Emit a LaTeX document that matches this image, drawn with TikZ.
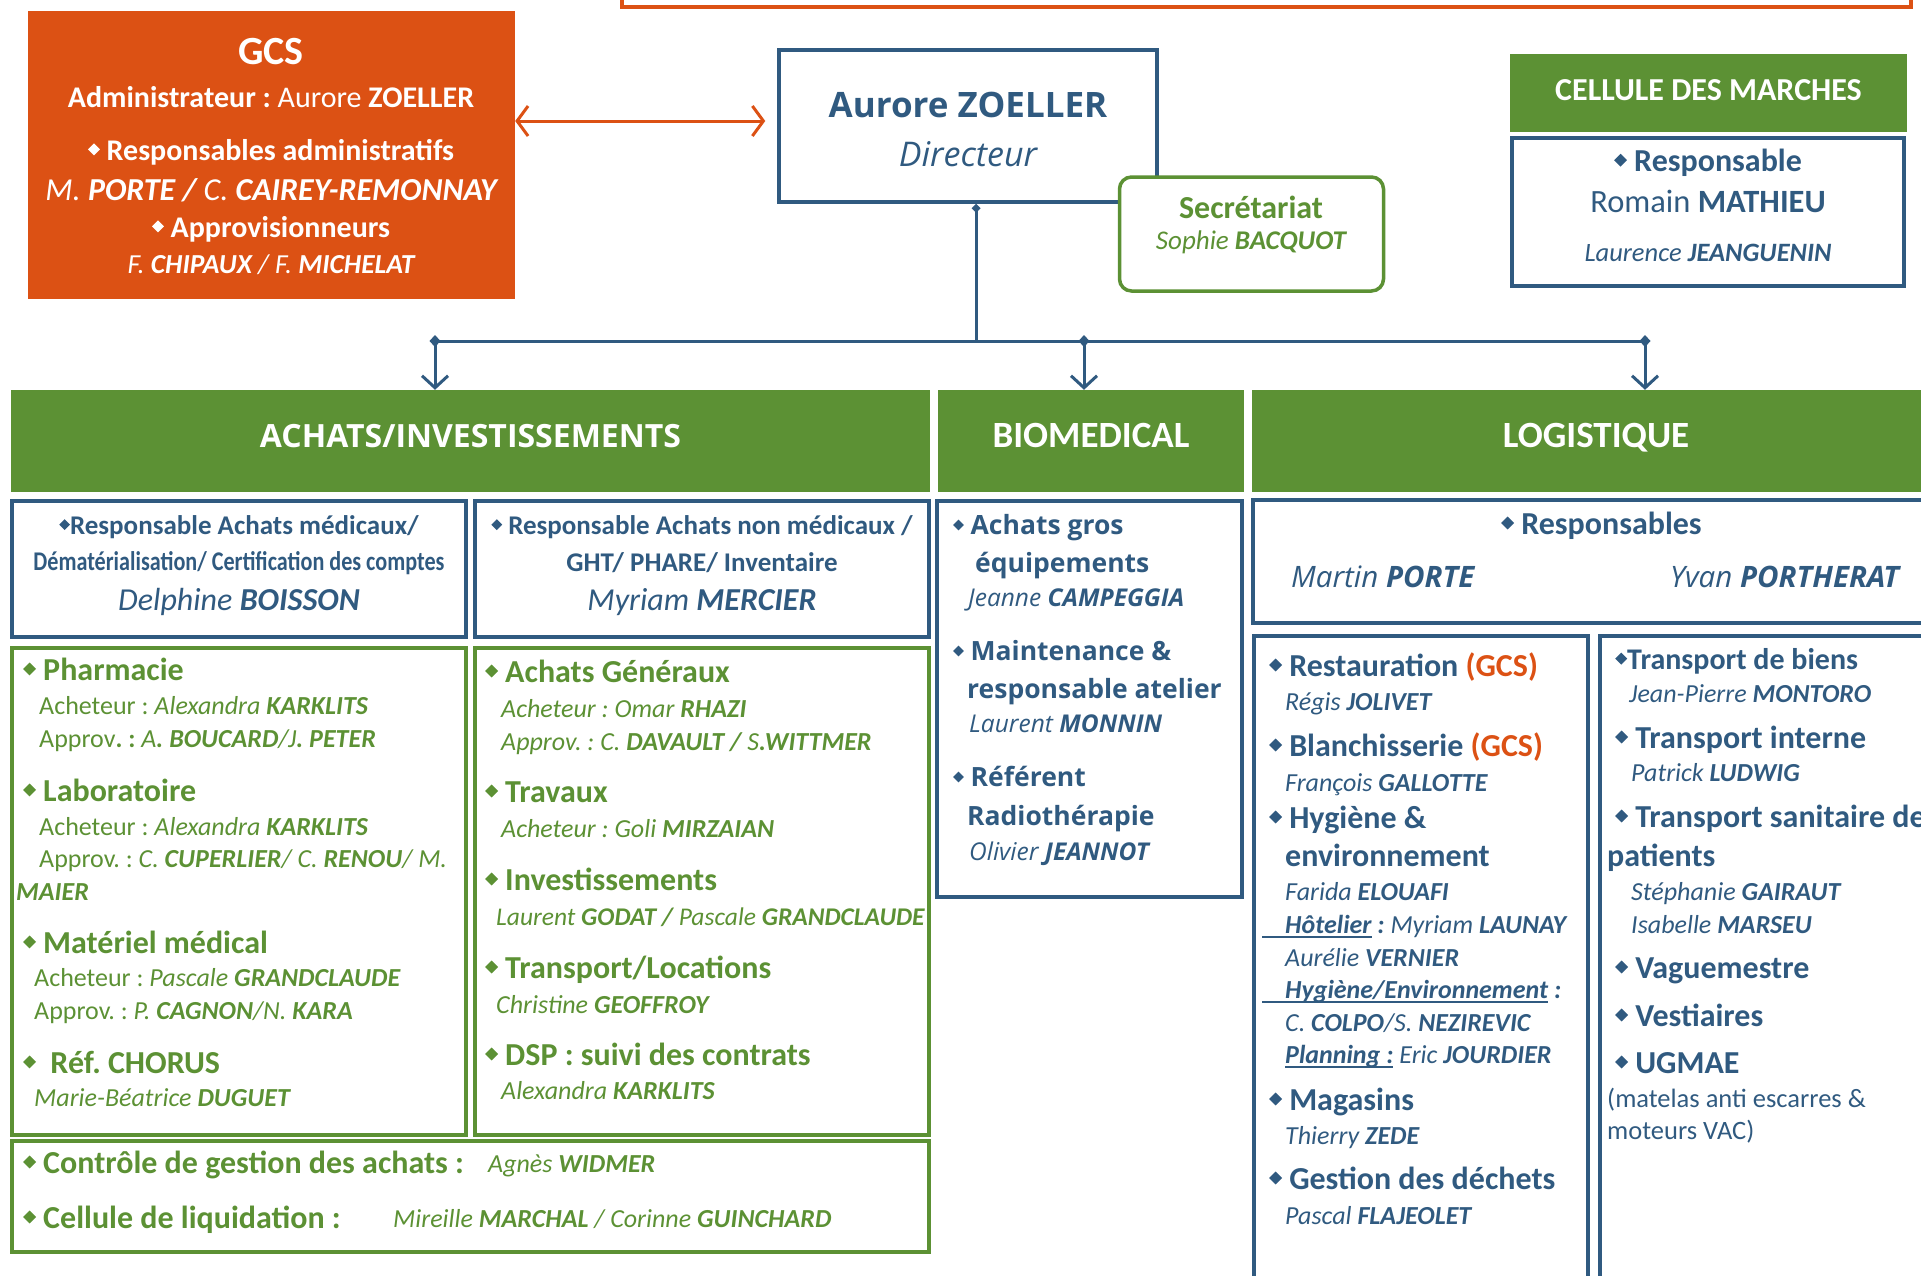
\documentclass[tikz,border=0pt]{standalone}
\usepackage{fontspec}
\setmainfont{Carlito}
\newfontfamily\osans{Open Sans}
\newfontfamily\cond[FakeStretch=0.82]{Carlito}
\usetikzlibrary{positioning, arrows.meta}
\definecolor{orng}{RGB}{220,81,20}
\definecolor{grn}{RGB}{92,145,52}
\definecolor{blu}{RGB}{48,90,128}
\newcommand{\fs}[2]{\fontsize{#1}{#2}\selectfont}
\newcommand{\bul}{\tikz[baseline=0pt]\fill (0pt,.36em)--(.2em,.56em)--(.4em,.36em)--(.2em,.16em)--cycle;}
\newcommand{\ul}[1]{\setbox0\hbox{#1}\rlap{\rule[-4pt]{\wd0}{1.6pt}}\box0}

\begin{document}
\frenchspacing
\begin{tikzpicture}[x=1pt, y=-1pt,
        conn/.style = {blu, line width=3pt},
        head/.style = {fill=grn, text=white, inner sep=0pt, font=\fs{37}{44}\bfseries, text height=23pt, text depth=10pt},
        bbox/.style = {draw=blu, line width=3.5pt},
        gbox/.style = {draw=grn, line width=3.5pt},
          gh/.style = {anchor=west, inner sep=0pt, text=grn, font=\fs{32}{38}\bfseries, text height=23pt, text depth=8pt},
          gs/.style = {anchor=west, inner sep=0pt, text=grn, font=\fs{26}{31}, text height=19pt, text depth=6pt},
          bh/.style = {gh, text=blu},
          bs/.style = {gs, text=blu, font=\fs{26}{31}\itshape},
          oh/.style = {gh, text=blu, font=\osans\fs{26.5}{32}\bfseries},
          os/.style = {gs, text=blu, font=\osans\fs{24.5}{30}\itshape},
         wht/.style = {text=white, inner sep=0pt}
                        ]
\useasboundingbox (0,0) rectangle (1921,1275);
\clip (0,0) rectangle (1921,1275);

\draw[orng, line width=4pt] (622,-30) rectangle (1911,7);

\node (gcs) [fill=orng, minimum width=487pt, minimum height=288pt, inner sep=0pt] at (271.5,155) {};
\node (gcs1) [wht, font=\fs{40}{46}\bfseries] at (271,52) {GCS};
\node (gcs2) [wht, font=\fs{30}{36}] at (271,97) {\textbf{Administrateur :} Aurore \textbf{ZOELLER}};
\node (gcs3) [wht, font=\fs{30}{36}\bfseries] at (271,152) {\bul\ Responsables administratifs};
\node (gcs4) [wht, font=\fs{32}{38}\itshape] at (271,190) {M. \textbf{PORTE / }C. \textbf{CAIREY-REMONNAY}};
\node (gcs5) [wht, font=\fs{30}{36}\bfseries] at (271,229) {\bul\ Approvisionneurs};
\node (gcs6) [wht, font=\fs{27.5}{32}\itshape] at (271,265) {F. \textbf{CHIPAUX} / F. \textbf{MICHELAT}};

\node (dir) [draw=blu, line width=3.5pt, minimum width=378pt, minimum height=152pt] at (968,126) {};
\node (dir1) [text=blu, inner sep=0pt, font=\osans\fs{35}{42}\bfseries] at (968,105) {Aurore ZOELLER};
\node (dir2) [text=blu, inner sep=0pt, font=\osans\fs{34}{40}\itshape] at (968,154) {Directeur};

\draw[orng, line width=3pt, {Straight Barb[length=11pt,width=30pt]}-{Straight Barb[length=11pt,width=30pt]}]
  ([yshift=34pt]gcs.east) -- ([xshift=-12pt,yshift=5pt]dir.west);

\coordinate (dtop) at ([xshift=8pt]dir.south);
\coordinate (hub) at (976,341);
\coordinate (ja) at (435,335);
\coordinate (jb) at (1084,335);
\coordinate (jc) at (1645,335);

\node (sec) [draw=grn, line width=3.5pt, fill=white, rounded corners=12pt, minimum width=264pt, minimum height=114pt] at (1251.5,234) {};
\node (sec1) [text=grn, inner sep=0pt, font=\fs{32}{38}\bfseries] at (1251,207) {Secrétariat};
\node (sec2) [text=grn, inner sep=0pt, font=\fs{27}{32}\itshape] at (1251,242) {Sophie \textbf{BACQUOT}};

\node (cdm) [head, font=\fs{32}{38}\bfseries, text height=21pt, text depth=6pt, minimum width=397pt, minimum height=78pt] at (1708.5,93) {CELLULE DES MARCHES};
\draw[bbox] (1512,138) rectangle (1904,286);
\node (cdm1) [text=blu, inner sep=0pt, font=\fs{32}{38}\bfseries] at (1708,163) {\bul\ Responsable};
\node (cdm2) [text=blu, inner sep=0pt, font=\fs{32.5}{38}] at (1708,201) {Romain \textbf{MATHIEU}};
\node (cdm3) [text=blu, inner sep=0pt, font=\fs{26.5}{32}\itshape] at (1708,253) {Laurence \textbf{JEANGUENIN}};

\node (achats) [head, font=\osans\fs{32}{38}\bfseries, minimum width=919pt, minimum height=102pt] at (470.5,441) {ACHATS/INVESTISSEMENTS};
\node (biomed) [head, minimum width=306pt, minimum height=102pt] at (1091,441) {BIOMEDICAL};
\node (logist) [head, minimum width=688pt, minimum height=102pt] at (1596,441) {LOGISTIQUE};

\draw[conn, {Diamond[length=9pt,width=9pt]}-] (dtop) -- (hub);
\draw[conn] (ja |- hub) -- (jc |- hub);
\draw[conn, {Diamond[length=12pt,width=11pt]}-{Straight Barb[length=12pt,width=26pt]}] (ja) -- (ja |- achats.north);
\draw[conn, {Diamond[length=12pt,width=11pt]}-{Straight Barb[length=12pt,width=26pt]}] (jb) -- (jb |- biomed.north);
\draw[conn, {Diamond[length=12pt,width=11pt]}-{Straight Barb[length=12pt,width=26pt]}] (jc) -- (jc |- logist.north);

\draw[bbox] (12,501) rectangle (466,637);
\draw[bbox] (475,501) rectangle (929,637);
\node (ra1) [text=blu, inner sep=0pt, font=\fs{27}{32}\bfseries] at (239,527) {\bul Responsable Achats médicaux/};
\node (ra2) [text=blu, inner sep=0pt, font=\cond\fs{27}{32}\bfseries] at (239,563) {Dématérialisation/ Certification des comptes};
\node (ra3) [text=blu, inner sep=0pt, font=\fs{32}{38}\itshape] at (239,602) {Delphine \textbf{BOISSON}};
\node (rb1) [text=blu, inner sep=0pt, font=\fs{27}{32}\bfseries] at (702,527) {\bul\ Responsable Achats non médicaux /};
\node (rb2) [text=blu, inner sep=0pt, font=\fs{27}{32}\bfseries] at (702,563) {GHT/ PHARE/ Inventaire};
\node (rb3) [text=blu, inner sep=0pt, font=\fs{32}{38}\itshape] at (702,602) {Myriam \textbf{MERCIER}};

\draw[gbox] (12,648) rectangle (466,1135);
\draw[gbox] (475,648) rectangle (929,1135);
\draw[gbox] (12,1141) rectangle (929,1252);

\node (pha)  [gh] at (23,673) {\bul\ Pharmacie};
\node (pha1) [gs] at (39,708) {Acheteur : \textit{Alexandra \textbf{KARKLITS}}};
\node (pha2) [gs] at (39,741) {Approv\textbf{. :} \textit{A\textbf{. BOUCARD}/J\textbf{. PETER}}};
\node (lab)  [gh] at (23,794) {\bul\ Laboratoire};
\node (lab1) [gs] at (39,829) {Acheteur : \textit{Alexandra \textbf{KARKLITS}}};
\node (lab2) [gs] at (39,861) {Approv. : \textit{C. \textbf{CUPERLIER}/ C. \textbf{RENOU}/ M.}};
\node (lab3) [gs] at (16,894) {\textit{\textbf{MAIER}}};
\node (mat)  [gh] at (23,946) {\bul\ Matériel médical};
\node (mat1) [gs] at (34,980) {Acheteur : \textit{Pascale \textbf{GRANDCLAUDE}}};
\node (mat2) [gs] at (34,1013) {Approv. : \textit{P. \textbf{CAGNON}/N. \textbf{KARA}}};
\node (cho)  [gh] at (23,1066) {\bul\ \ Réf. CHORUS};
\node (cho1) [gs] at (34,1100) {\textit{Marie-Béatrice \textbf{DUGUET}}};

\node (gen)  [gh] at (485,675) {\bul\ Achats Généraux};
\node (gen1) [gs] at (501,711) {\textit{Acheteur : Omar \textbf{RHAZI}}};
\node (gen2) [gs] at (501,744) {\textit{Approv. : C. \textbf{DAVAULT / }S\textbf{.WITTMER}}};
\node (tra)  [gh] at (485,795) {\bul\ Travaux};
\node (tra1) [gs] at (501,831) {\textit{Acheteur : Goli \textbf{MIRZAIAN}}};
\node (inv)  [gh] at (485,883) {\bul\ Investissements};
\node (inv1) [gs, font=\fs{25.5}{31}] at (496,919) {\textit{Laurent \textbf{GODAT / }Pascale \textbf{GRANDCLAUDE}}};
\node (loc)  [gh] at (485,971) {\bul\ Transport/Locations};
\node (loc1) [gs] at (496,1007) {\textit{Christine \textbf{GEOFFROY}}};
\node (dsp)  [gh] at (485,1058) {\bul\ DSP : suivi des contrats};
\node (dsp1) [gs] at (501,1093) {\textit{Alexandra \textbf{KARKLITS}}};

\node (cge)  [gh] at (23,1166) {\bul\ Contrôle de gestion des achats :};
\node (cge1) [gs] at (488,1166) {\textit{Agnès \textbf{WIDMER}}};
\node (liq)  [gh] at (23,1221) {\bul\ Cellule de liquidation :};
\node (liq1) [gs] at (393,1221) {\textit{Mireille \textbf{MARCHAL} / Corinne \textbf{GUINCHARD}}};

\draw[bbox] (937,501) rectangle (1242,897);
\node (gro)  [oh] at (953,527) {\bul\ Achats gros};
\node (gro1) [oh] at (975,565) {équipements};
\node (gro2) [os] at (968,600) {Jeanne \textbf{CAMPEGGIA}};
\node (mai)  [oh] at (953,653) {\bul\ Maintenance \&};
\node (mai1) [oh] at (967,691) {responsable atelier};
\node (mai2) [os] at (969,726) {Laurent \textbf{MONNIN}};
\node (rad)  [oh] at (953,779) {\bul\ Référent};
\node (rad1) [oh] at (967,818) {Radiothérapie};
\node (rad2) [os] at (969,854) {Olivier \textbf{JEANNOT}};

\draw[bbox] (1253,500) rectangle (1940,623);
\node (lre)  [bh] at (1501,527) {\bul\ Responsables};
\node (lre1) [os, font=\osans\fs{29.5}{35}\itshape] at (1291,581) {Martin \textbf{PORTE}};
\node (lre2) [os, font=\osans\fs{29.5}{35}\itshape] at (1670,581) {Yvan \textbf{PORTHERAT}};

\draw[bbox] (1254,636) rectangle (1588,1300);
\draw[bbox] (1600,636) rectangle (1940,1300);
\node (rst)  [bh] at (1269,669) {\bul\ Restauration \textcolor{orng}{(GCS)}};
\node (rst1) [bs] at (1285,704) {Régis \textbf{JOLIVET}};
\node (bla)  [bh] at (1269,749) {\bul\ Blanchisserie \textcolor{orng}{(GCS)}};
\node (bla1) [bs] at (1285,785) {François \textbf{GALLOTTE}};
\node (hyg)  [bh] at (1269,821) {\bul\ Hygiène \&};
\node (hyg1) [bh] at (1285,859) {environnement};
\node (hyg2) [bs] at (1285,894) {Farida \textbf{ELOUAFI}};
\node (hyg3) [bs] at (1262,927) {\ul{\hspace{23pt}\textbf{Hôtelier}}\textbf{ :} Myriam \textbf{LAUNAY}};
\node (hyg4) [bs] at (1285,960) {Aurélie \textbf{VERNIER}};
\node (hyg5) [bs] at (1262,992) {\ul{\hspace{23pt}\textbf{Hygiène/Environnement}}\textbf{ :}};
\node (hyg6) [bs] at (1285,1025) {C. \textbf{COLPO}/S. \textbf{NEZIREVIC}};
\node (hyg7) [bs] at (1285,1057) {\ul{\textbf{Planning :}}\ Eric \textbf{JOURDIER}};
\node (mag)  [bh] at (1269,1103) {\bul\ Magasins};
\node (mag1) [bs] at (1285,1138) {Thierry \textbf{ZEDE}};
\node (dec)  [bh] at (1269,1182) {\bul\ Gestion des déchets};
\node (dec1) [bs] at (1285,1218) {Pascal \textbf{FLAJEOLET}};

\node (tbi)  [bh, font=\fs{30}{36}\bfseries] at (1615,662) {\bul Transport de biens};
\node (tbi1) [bs] at (1629,696) {Jean-Pierre \textbf{MONTORO}};
\node (tin)  [bh] at (1615,741) {\bul\ Transport interne};
\node (tin1) [bs] at (1631,775) {Patrick \textbf{LUDWIG}};
\node (tsp)  [bh] at (1615,820) {\bul\ Transport sanitaire de};
\node (tsp1) [bh] at (1607,859) {patients};
\node (tsp2) [bs] at (1631,894) {Stéphanie \textbf{GAIRAUT}};
\node (tsp3) [bs] at (1631,927) {Isabelle \textbf{MARSEU}};
\node (vag)  [bh] at (1615,971) {\bul\ Vaguemestre};
\node (ves)  [bh] at (1615,1019) {\bul\ Vestiaires};
\node (ugm)  [bh] at (1615,1066) {\bul\ UGMAE};
\node (ugm1) [gs, text=blu, font=\fs{26.5}{32}] at (1607,1101) {(matelas anti escarres \&};
\node (ugm2) [gs, text=blu, font=\fs{26.5}{32}] at (1607,1133) {moteurs VAC)};
\end{tikzpicture}
\end{document}
